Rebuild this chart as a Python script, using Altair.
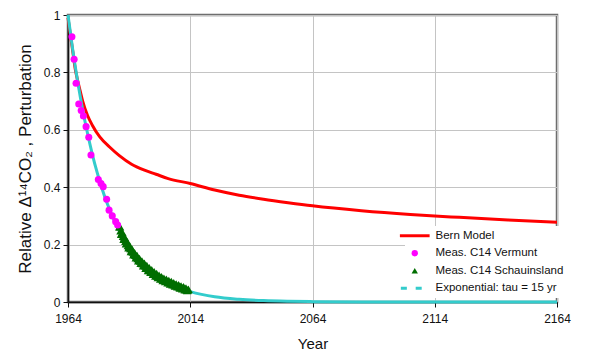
import altair as alt
import pandas as pd

FONT = "Liberation Sans"

SERIES = ["Bern Model", "Meas. C14 Vermunt", "Meas. C14 Schauinsland", "Exponential: tau = 15 yr"]
COLORS = ["#ff0000", "#ff00ff", "#006e00", "#33cccc"]
# legend glyphs: a solid bar for the Bern line, a dashed bar for the exponential line
SHAPES = ["M-4.7,-0.47H4.7V0.47H-4.7Z", "circle", "triangle-up",
          "M-4.4,-0.47H-2.5V0.47H-4.4Z M0.3,-0.47H2.2V0.47H0.3Z"]

bern_year = [1964, 1965, 1966, 1967, 1968, 1969, 1970, 1972, 1974, 1977, 1981, 1985, 1990, 1995,
             2000, 2005, 2014, 2024, 2034, 2044, 2054, 2064, 2084, 2104, 2124, 2144, 2164]
bern_val = [0.99, 0.93, 0.87, 0.81, 0.77, 0.735, 0.70, 0.65, 0.615, 0.575, 0.54, 0.51, 0.48, 0.46,
            0.445, 0.43, 0.413, 0.39, 0.372, 0.358, 0.346, 0.335, 0.318, 0.305, 0.295, 0.286, 0.278]

exp_year = [1964, 1966, 1968, 1970, 1972, 1974, 1976, 1978, 1980, 1984, 1988, 1992, 1996, 2000,
            2004, 2008, 2014, 2024, 2034, 2044, 2054, 2064, 2084, 2114, 2164]
exp_val = [1.0, 0.875, 0.766, 0.670, 0.587, 0.513, 0.449, 0.393, 0.344, 0.264, 0.202, 0.155, 0.118,
           0.091, 0.069, 0.053, 0.036, 0.018, 0.0094, 0.0048, 0.0025, 0.0013, 0.0003, 0.0, 0.0]

verm_year = [1965.6, 1966.5, 1967.3, 1968.4, 1969.4, 1970.3, 1971.4, 1972.5, 1973.4, 1976.4,
             1977.5, 1978.4, 1979.8, 1980.8, 1982.1, 1983.5, 1984.3]
verm_val = [0.924, 0.846, 0.762, 0.690, 0.667, 0.648, 0.611, 0.574, 0.512, 0.427,
            0.413, 0.402, 0.358, 0.320, 0.300, 0.280, 0.268]

scha_year = [1985.0, 1985.5, 1986.0, 1986.5, 1987.0, 1987.5, 1988.0, 1988.5, 1989.0, 1989.5,
             1990.0, 1990.5, 1991.0, 1991.5, 1992.0, 1992.5, 1993.0, 1993.5, 1994.0, 1994.5,
             1995.0, 1995.5, 1996.0, 1996.5, 1997.0, 1997.5, 1998.0, 1998.5, 1999.0, 1999.5,
             2000.0, 2000.5, 2001.0, 2001.5, 2002.0, 2002.5, 2003.0, 2003.5, 2004.0, 2004.5,
             2005.0, 2005.5, 2006.0, 2006.5, 2007.0, 2007.5, 2008.0, 2008.5, 2009.0, 2009.5,
             2010.0, 2010.5, 2011.0, 2011.5, 2012.0, 2012.5, 2013.0,
             1985.25, 1985.75, 1986.25, 1986.75, 1987.25, 1987.75, 1988.25, 1988.75, 1989.25,
             1989.75, 1990.25, 1990.75, 1991.25, 1991.75, 1992.25, 1992.75, 1993.25, 1993.75,
             1994.25, 1994.75, 1995.25, 1995.75, 1996.25, 1996.75, 1997.25, 1997.75, 1998.25,
             1998.75, 1999.25, 1999.75, 2000.25, 2000.75, 2001.25, 2001.75, 2002.25, 2002.75,
             2003.25, 2003.75, 2004.25, 2004.75, 2005.25, 2005.75, 2006.25, 2006.75, 2007.25,
             2007.75, 2008.25, 2008.75, 2009.25, 2009.75, 2010.25, 2010.75, 2011.25, 2011.75,
             2012.25, 2012.75, 2013.25]
scha_val = [0.262, 0.248, 0.240, 0.229, 0.224, 0.212, 0.206, 0.197, 0.193, 0.186,
            0.182, 0.174, 0.170, 0.163, 0.160, 0.152, 0.149, 0.143, 0.140, 0.134,
            0.133, 0.126, 0.124, 0.118, 0.116, 0.110, 0.109, 0.104, 0.102, 0.097,
            0.096, 0.091, 0.090, 0.086, 0.085, 0.081, 0.080, 0.076, 0.076, 0.072,
            0.072, 0.068, 0.068, 0.064, 0.064, 0.060, 0.060, 0.057, 0.057, 0.053,
            0.053, 0.050, 0.050, 0.047, 0.046, 0.043, 0.042,
            0.262, 0.236, 0.242, 0.219, 0.225, 0.203, 0.210, 0.189, 0.196,
            0.176, 0.184, 0.165, 0.172, 0.154, 0.162, 0.144, 0.152, 0.135,
            0.143, 0.126, 0.135, 0.118, 0.127, 0.110, 0.119, 0.104, 0.112,
            0.097, 0.105, 0.091, 0.099, 0.085, 0.093, 0.080, 0.088, 0.075,
            0.083, 0.071, 0.079, 0.067, 0.075, 0.063, 0.071, 0.060, 0.067,
            0.056, 0.063, 0.053, 0.060, 0.049, 0.056, 0.046, 0.053, 0.043,
            0.049, 0.040, 0.044]

x_ticks = [1964, 2014, 2064, 2114, 2164]
y_ticks = [0, 0.2, 0.4, 0.6, 0.8, 1]

lines = pd.concat([
    pd.DataFrame({"year": bern_year, "value": bern_val, "series": SERIES[0]}),
    pd.DataFrame({"year": exp_year, "value": exp_val, "series": SERIES[3]}),
])
scha = pd.DataFrame({"year": scha_year, "value": scha_val, "series": SERIES[2]})
verm = pd.DataFrame({"year": verm_year, "value": verm_val, "series": SERIES[1]})

x = alt.X("year:Q", scale=alt.Scale(domain=[1964, 2164], nice=False, zero=False),
          axis=alt.Axis(values=x_ticks, format="d", title="Year"))
y = alt.Y("value:Q", scale=alt.Scale(domain=[0, 1], nice=False),
          axis=alt.Axis(values=y_ticks, format="~g",
                        title="Relative Δ\u00b9\u2074CO\u2082 , Perturbation"))

legend = alt.Legend(title=None, orient="none", legendX=337, legendY=211,
                    fillColor="white", padding=4, labelFont=FONT, labelFontSize=11.5,
                    labelColor="#111", rowPadding=4.5, symbolStrokeWidth=0,
                    symbolSize=40, labelOffset=15)

color = alt.Color("series:N", scale=alt.Scale(domain=SERIES, range=COLORS), legend=legend,
                  sort=SERIES)
shape = alt.Shape("series:N", scale=alt.Scale(domain=SERIES, range=SHAPES), legend=legend,
                  sort=SERIES)

line_layer = alt.Chart(lines).mark_line(strokeWidth=3, interpolate="monotone").encode(
    x=x, y=y, color=color, detail="series:N")

scha_layer = alt.Chart(scha).mark_point(filled=True, opacity=1, strokeWidth=0, size=75).encode(
    x=x, y=y, color=color, shape=shape)

verm_layer = alt.Chart(verm).mark_point(filled=True, opacity=1, strokeWidth=0, size=50).encode(
    x=x, y=y, color=color, shape=shape)

chart = alt.layer(line_layer, scha_layer, verm_layer).properties(
    width=489, height=287,
    autosize=alt.AutoSizeParams(type="none"),
    padding={"left": 60, "top": 7, "right": 40, "bottom": 54},
).configure_view(
    stroke="#6e6e6e", strokeWidth=2.5,
).configure_axis(
    labelFont=FONT, labelFontSize=12, labelColor="#111", labelFlush=False,
    titleFont=FONT, titleFontWeight="normal", titleColor="#111",
    gridColor="#c4c4c4", gridWidth=1,
    domainColor="#111", domainWidth=1.5,
    tickColor="#111", tickSize=5,
).configure_axisX(
    labelPadding=6, titlePadding=12, titleFontSize=15,
).configure_axisY(
    labelPadding=3, titlePadding=9, titleFontSize=17,
)

chart.save("out.html", embed_options={"renderer": "svg", "actions": False})
